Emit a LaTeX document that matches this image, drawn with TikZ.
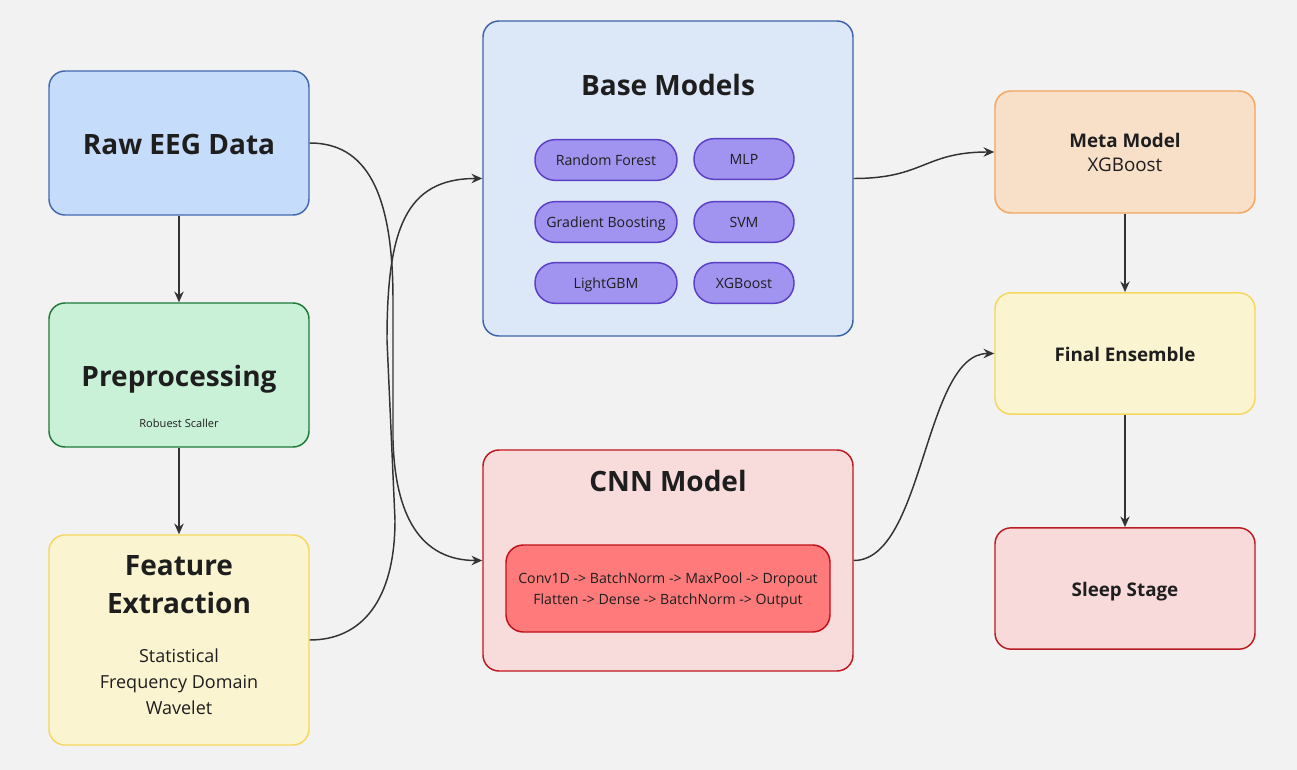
\documentclass[tikz,border=0pt]{standalone}
\usepackage{fontspec}
\setmainfont{Open Sans}
\usetikzlibrary{arrows.meta}
\definecolor{bg}{HTML}{F2F2F2}
\definecolor{txt}{HTML}{1E1E1E}
\definecolor{ln}{HTML}{333333}
\definecolor{rawF}{HTML}{C6DCFB}\definecolor{rawD}{HTML}{4468B0}
\definecolor{preF}{HTML}{C9F1D8}\definecolor{preD}{HTML}{1F7A38}
\definecolor{yelF}{HTML}{FBF4D0}\definecolor{yelD}{HTML}{F5D75E}
\definecolor{baseF}{HTML}{DCE7F8}\definecolor{baseD}{HTML}{3D64AA}
\definecolor{cnnF}{HTML}{F8DCDC}\definecolor{cnnD}{HTML}{C1161E}
\definecolor{metaF}{HTML}{F8DFC8}\definecolor{metaD}{HTML}{F4A55C}
\definecolor{slpF}{HTML}{F9DADB}\definecolor{slpD}{HTML}{B91C24}
\definecolor{pillF}{HTML}{A094F0}\definecolor{pillD}{HTML}{5B3FC4}
\definecolor{innF}{HTML}{FF7B7B}\definecolor{innD}{HTML}{C0101A}
\tikzset{
  box/.style={draw, line width=1.1pt, rounded corners=12pt, inner sep=0pt},
  pill/.style={draw=pillD, fill=pillF, line width=1.1pt, rounded corners=15pt, inner sep=0pt, minimum height=30.5pt, text height=7.6pt, text depth=0pt, font=\fontsize{10.6}{13}\selectfont, text=txt},
  bigt/.style={font=\fontsize{21}{28.5}\selectfont\bfseries, text=txt, align=center, inner sep=0pt},
  medt/.style={font=\fontsize{14.1}{18}\selectfont\bfseries, text=txt, inner sep=0pt},
  medr/.style={font=\fontsize{14.1}{18}\selectfont, text=txt, inner sep=0pt},
  arr/.style={draw=ln, line width=1.1pt, -{Stealth[length=8pt,width=7pt]}}
}
\begin{document}
\begin{tikzpicture}[x=0.75pt,y=-0.75pt]
\useasboundingbox (0,0) rectangle (1297,770);
\fill[bg] (0,0) rectangle (1297,770);
% left column
\node[box, draw=rawD, fill=rawF, minimum width=195pt, minimum height=108pt] (raw) at (179,143) {};
\node[bigt] (rawt) at (179,144) {Raw EEG Data};
\node[box, draw=preD, fill=preF, minimum width=195pt, minimum height=108pt] (pre) at (179,375) {};
\node[bigt] (pret) at (179,379) {Preprocessing};
\node[font=\fontsize{8.3}{10}\selectfont, text=txt, inner sep=0pt] (pres) at (179,423) {Robuest Scaller};
\node[box, draw=yelD, fill=yelF, minimum width=195pt, minimum height=157.5pt] (fe) at (179,640) {};
\node[bigt] (fet) at (179,585) {Feature\\Extraction};
\node[font=\fontsize{13.5}{19.5}\selectfont, text=txt, align=center, inner sep=0pt] (fes) at (179,682) {Statistical\\Frequency Domain\\Wavelet};
% base models
\node[box, draw=baseD, fill=baseF, minimum width=277.5pt, minimum height=236.25pt] (base) at (668,178.5) {};
\node[bigt] (baset) at (668,85) {Base Models};
\node[pill, minimum width=106.5pt] (rf) at (606,160) {Random Forest};
\node[pill, minimum width=75pt] (mlp) at (744,159) {MLP};
\node[pill, minimum width=106.5pt] (gb) at (606,222) {Gradient Boosting};
\node[pill, minimum width=75pt] (svm) at (744,222) {SVM};
\node[pill, minimum width=106.5pt] (lgb) at (606,283) {LightGBM};
\node[pill, minimum width=75pt] (xgb) at (744,283) {XGBoost};
% cnn
\node[box, draw=cnnD, fill=cnnF, minimum width=277.5pt, minimum height=165.75pt] (cnn) at (668,560.5) {};
\node[bigt] (cnnt) at (668,481) {CNN Model};
\node[draw=innD, fill=innF, line width=1.1pt, rounded corners=13pt, minimum width=243pt, minimum height=65.25pt, inner sep=0pt] (inner) at (668,588.5) {};
\node[font=\fontsize{10.6}{15.75}\selectfont, text=txt, align=center, inner sep=0pt] (innert) at (668,590.5) {Conv1D -> BatchNorm -> MaxPool -> Dropout\\Flatten -> Dense -> BatchNorm -> Output};
% right column
\node[box, draw=metaD, fill=metaF, minimum width=195pt, minimum height=91.5pt] (meta) at (1125,152) {};
\node[medt] (metat) at (1125,140) {Meta Model};
\node[medr] (metas) at (1125,165) {XGBoost};
\node[box, draw=yelD, fill=yelF, minimum width=195pt, minimum height=91pt] (fin) at (1125,353.5) {};
\node[medt] (fint) at (1125,354) {Final Ensemble};
\node[box, draw=slpD, fill=slpF, minimum width=195pt, minimum height=91pt] (slp) at (1125,588.5) {};
\node[medt] (slpt) at (1125,592) {Sleep Stage};
% connectors
\draw[arr] (raw.south) -- (pre.north);
\draw[arr] (pre.south) -- (fe.north);
\draw[arr] (raw.east) .. controls (365,143) and (393,190) .. (393,300) -- (393,440) .. controls (395,515) and (420,560.5) .. (cnn.west);
\draw[arr] (fe.east) .. controls (362,640) and (395,600) .. (395,520) -- (387,340) .. controls (387,230) and (405,178.5) .. (base.west);
\draw[arr] (base.east) .. controls (924,178.5) and (924,152) .. (meta.west);
\draw[arr] (cnn.east) .. controls (924,560.5) and (924,353.5) .. (fin.west);
\draw[arr] (meta.south) -- (fin.north);
\draw[arr] (fin.south) -- (slp.north);
\end{tikzpicture}
\end{document}
